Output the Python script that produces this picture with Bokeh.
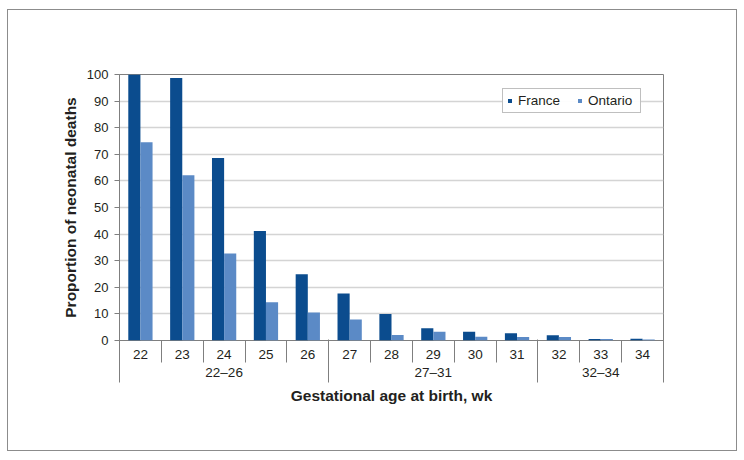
import numpy as np
from bokeh.plotting import figure
from bokeh.models import (ColumnDataSource, FixedTicker, LinearAxis, Range1d,
                          Legend, LegendItem)
from bokeh.transform import dodge
from bokeh.embed import file_html
from bokeh.resources import INLINE

# ---- data ----
weeks = ["22", "23", "24", "25", "26", "27", "28", "29", "30", "31", "32", "33", "34"]
groups = ["22–26", "27–31", "32–34"]
group_sizes = [5, 5, 3]
france = [100, 98.7, 68.6, 41.2, 24.9, 17.7, 10.0, 4.6, 3.3, 2.7, 2.0, 0.6, 0.7]
ontario = [74.5, 62.1, 32.7, 14.4, 10.5, 7.9, 2.1, 3.3, 1.4, 1.3, 1.3, 0.6, 0.4]
y_ticks = list(range(0, 101, 10))

FRANCE_C = "#0b4c8e"
ONTARIO_C = "#5b8ac6"
TEXT_C = "#231f20"
LINE_C = "#7f7f7f"
FONT = "Liberation Sans"

pos = [i + 0.5 for i in range(len(weeks))]
bounds = [0] + [int(b) for b in np.cumsum(group_sizes)]
group_centers = [(bounds[i] + bounds[i + 1]) / 2 for i in range(len(groups))]

src = ColumnDataSource(dict(x=pos, france=france, ontario=ontario))

p = figure(width=730, height=442, output_backend="svg", toolbar_location=None,
           x_range=Range1d(0, len(weeks)), y_range=Range1d(0, 100),
           x_axis_location=None, min_border_left=111, min_border_right=75,
           min_border_top=64, min_border_bottom=112)
p.styles = {"border": "1px solid #8c8c8c", "margin-left": "7px", "margin-top": "9px"}

bw = 0.29
r1 = p.vbar(x=dodge("x", -0.145, range=p.x_range), top="france", width=bw, bottom=0,
            source=src, fill_color=FRANCE_C, line_color=None)
r2 = p.vbar(x=dodge("x", 0.145, range=p.x_range), top="ontario", width=bw, bottom=0,
            source=src, fill_color=ONTARIO_C, line_color=None)

p.outline_line_color = LINE_C
p.outline_line_width = 1
p.xgrid.visible = False
p.ygrid.grid_line_color = "#d4d4d4"
p.ygrid.grid_line_width = 1.3

# y axis
ya = p.yaxis[0]
ya.ticker = FixedTicker(ticks=y_ticks)
ya.axis_line_color = LINE_C
ya.major_tick_line_color = LINE_C
ya.major_tick_out = 5
ya.major_tick_in = 0
ya.minor_tick_line_color = None
ya.major_label_standoff = 6
ya.major_label_text_font = FONT
ya.major_label_text_font_size = "13px"
ya.major_label_text_color = TEXT_C
ya.axis_label = "Proportion of neonatal deaths"
ya.axis_label_text_font = FONT
ya.axis_label_text_font_size = "15.5px"
ya.axis_label_text_font_style = "bold"
ya.axis_label_text_color = TEXT_C
ya.axis_label_standoff = 5

# x axis 1: weeks
ax1 = LinearAxis(ticker=FixedTicker(ticks=pos, minor_ticks=list(range(0, len(weeks) + 1))),
                 major_label_overrides={float(x): w for x, w in zip(pos, weeks)})
ax1.axis_line_color = None
ax1.major_tick_line_color = None
ax1.major_tick_out = 0
ax1.major_tick_in = 0
ax1.minor_tick_line_color = LINE_C
ax1.minor_tick_out = 22
ax1.minor_tick_in = 0
ax1.major_label_standoff = -13
ax1.major_label_text_font = FONT
ax1.major_label_text_font_size = "13.5px"
ax1.major_label_text_color = TEXT_C
p.add_layout(ax1, "below")

# x axis 2: groups
ax2 = LinearAxis(ticker=FixedTicker(ticks=group_centers, minor_ticks=bounds),
                 major_label_overrides={float(c): g for c, g in zip(group_centers, groups)})
ax2.axis_line_color = None
ax2.major_tick_line_color = None
ax2.major_tick_out = 0
ax2.major_tick_in = 0
ax2.minor_tick_line_color = LINE_C
ax2.minor_tick_out = 21
ax2.minor_tick_in = 22
ax2.major_label_standoff = -18
ax2.major_label_text_font = FONT
ax2.major_label_text_font_size = "13.5px"
ax2.major_label_text_color = TEXT_C
ax2.axis_label = "Gestational age at birth, wk"
ax2.axis_label_text_font = FONT
ax2.axis_label_text_font_size = "15.5px"
ax2.axis_label_text_font_style = "bold"
ax2.axis_label_text_color = TEXT_C
ax2.axis_label_standoff = 4
p.add_layout(ax2, "below")

legend = Legend(items=[LegendItem(label="France", renderers=[r1]),
                       LegendItem(label="Ontario", renderers=[r2])],
                orientation="horizontal", location=(383, 227))
legend.glyph_width = 5
legend.glyph_height = 5
legend.label_height = 15
legend.label_width = 48
legend.label_standoff = 6
legend.spacing = 11
legend.padding = 4
legend.margin = 0
legend.border_line_color = "#808080"
legend.border_line_width = 1
legend.label_text_font = FONT
legend.label_text_font_size = "13.5px"
legend.label_text_color = TEXT_C
p.add_layout(legend)

open("out.html", "w").write(file_html(p, INLINE))
